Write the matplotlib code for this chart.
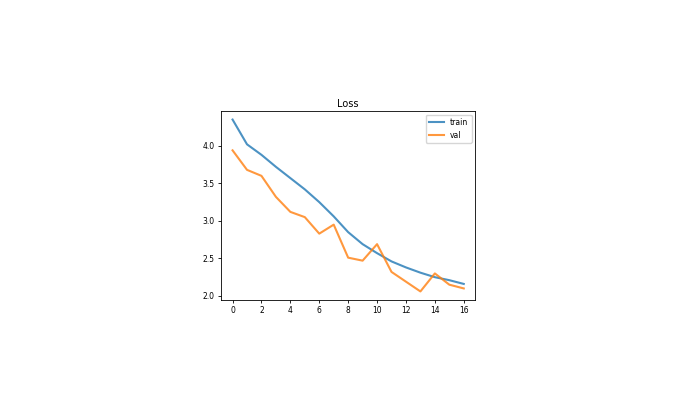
import matplotlib
matplotlib.use("Agg")
import matplotlib.pyplot as plt

epochs = list(range(17))
train = [4.35, 4.02, 3.88, 3.72, 3.57, 3.42, 3.25, 3.06, 2.85, 2.69, 2.57, 2.46, 2.38, 2.31, 2.25, 2.21, 2.16]
val = [3.94, 3.68, 3.60, 3.32, 3.12, 3.05, 2.83, 2.95, 2.51, 2.47, 2.69, 2.32, 2.19, 2.06, 2.30, 2.15, 2.10]

fig = plt.figure(figsize=(6.8, 4.11), dpi=100)
ax = fig.add_axes([0.325, 0.270, 0.374, 0.460])
ax.plot(epochs, train, color="#1f77b4", label="train", alpha=0.8)
ax.plot(epochs, val, color="#ff7f0e", label="val", alpha=0.8)
ax.set_title("Loss", fontsize=7, pad=3)
ax.set_xticks(range(0, 17, 2))
ax.set_yticks([2.0, 2.5, 3.0, 3.5, 4.0])
ax.tick_params(labelsize=5.5, length=2.5, width=0.6, pad=2)
for s in ax.spines.values():
    s.set_linewidth(0.6)
ax.legend(fontsize=5.5, loc="upper right")
fig.savefig("out.png", dpi=100)
